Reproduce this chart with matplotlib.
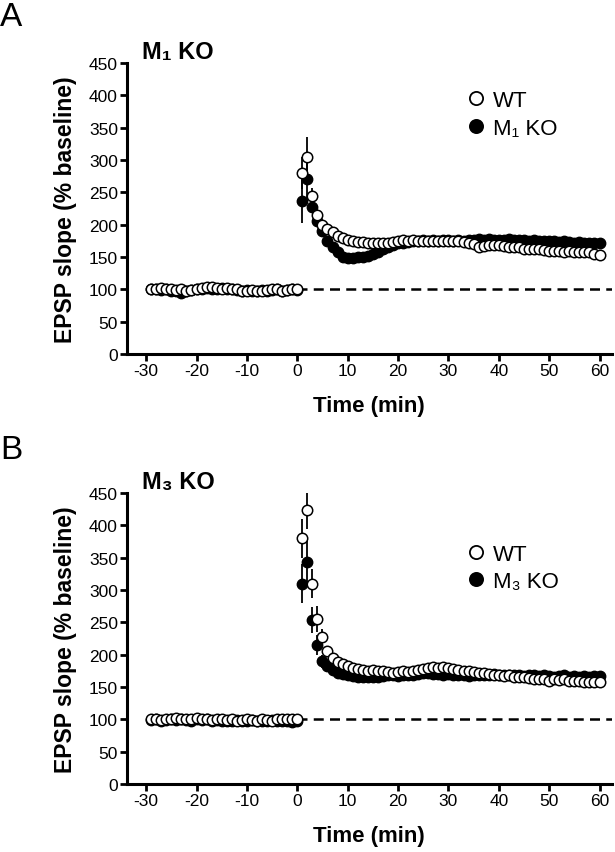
#!/usr/bin/env python
import numpy as np
import matplotlib as mpl
mpl.use('Agg')
import matplotlib.pyplot as plt
from matplotlib.lines import Line2D

plt.rcParams['font.family'] = ['Liberation Sans', 'DejaVu Sans']
plt.rcParams['axes.unicode_minus'] = False

# time axis (min)
t_base = np.arange(-29, 1)
t_post = np.arange(1, 61)

# ---- panel A: M1 KO ----
a_wt_base = [101, 100, 102, 101, 100, 99, 101, 98, 99, 101, 102, 103, 104, 102, 101,
             102, 101, 100, 97, 98, 99, 97, 98, 99, 100, 101, 97, 99, 100, 100]
a_ko_base = [100, 101, 99, 100, 98, 97, 95, 97, 99, 100, 101, 102, 101, 100, 102,
             101, 100, 99, 98, 99, 98, 97, 99, 98, 99, 100, 98, 99, 100, 99]
a_wt_post = [280, 305, 245, 215, 200, 193, 188, 183, 180, 177, 175, 173, 173, 172, 172,
             172, 171, 172, 173, 175, 176, 175, 176, 175, 174, 175, 174, 175, 174, 175,
             174, 175, 173, 172, 170, 166, 167, 168, 169, 168, 167, 166, 165, 165, 163,
             162, 163, 162, 161, 160, 160, 160, 158, 159, 158, 157, 158, 157, 155, 153]
a_ko_post = [236, 270, 228, 205, 190, 175, 165, 157, 150, 148, 148, 150, 150, 152, 155,
             158, 162, 165, 168, 171, 172, 173, 174, 175, 176, 175, 176, 175, 176, 176,
             175, 176, 175, 176, 177, 178, 177, 178, 177, 176, 177, 178, 177, 176, 176,
             175, 176, 175, 174, 175, 174, 173, 174, 173, 172, 173, 172, 171, 172, 171]
a_wt_err = [25, 31, 12, 8, 6, 5, 4]
a_ko_err = [33, 30, 10, 7, 5, 4, 4]

# ---- panel B: M3 KO ----
b_wt_base = [100, 101, 99, 100, 101, 102, 100, 101, 100, 102, 101, 100, 99, 101, 100,
             99, 100, 98, 99, 100, 99, 98, 100, 99, 98, 100, 101, 100, 101, 101]
b_ko_base = [99, 100, 98, 99, 100, 99, 100, 99, 98, 100, 99, 100, 98, 99, 98,
             97, 98, 99, 97, 98, 99, 98, 97, 98, 99, 97, 98, 97, 96, 97]
b_wt_post = [380, 423, 310, 255, 228, 205, 195, 188, 185, 183, 180, 178, 177, 175, 176,
             174, 174, 173, 172, 173, 174, 173, 175, 177, 178, 180, 181, 180, 181, 180,
             178, 177, 175, 174, 173, 172, 171, 170, 169, 168, 167, 168, 166, 165, 166,
             164, 163, 162, 163, 160, 162, 161, 163, 160, 159, 160, 158, 157, 158, 158]
b_ko_post = [310, 343, 253, 215, 190, 182, 176, 172, 170, 168, 167, 166, 166, 166, 165,
             166, 167, 168, 168, 167, 168, 168, 169, 170, 171, 171, 170, 170, 169, 170,
             169, 168, 168, 167, 168, 169, 168, 169, 170, 169, 168, 169, 168, 168, 167,
             168, 168, 167, 168, 167, 166, 167, 168, 166, 167, 166, 167, 166, 167, 167]
b_wt_err = [30, 28, 22, 20, 12, 8, 6]
b_ko_err = [30, 35, 20, 15, 10, 7, 5]

xticks = [-30, -20, -10, 0, 10, 20, 30, 40, 50, 60]
yticks = [0, 50, 100, 150, 200, 250, 300, 350, 400, 450]


def pad_err(err, n, fill):
    return list(err) + [fill] * (n - len(err))


def draw_panel(ax, wt_base, ko_base, wt_post, ko_post, wt_err, ko_err, title, ko_label,
               leg_y):
    t = np.concatenate([t_base, t_post])
    wt = np.array(wt_base + wt_post, dtype=float)
    ko = np.array(ko_base + ko_post, dtype=float)
    wt_e = np.array([3] * len(t_base) + pad_err(wt_err, len(t_post), 4), dtype=float)
    ko_e = np.array([3] * len(t_base) + pad_err(ko_err, len(t_post), 4), dtype=float)

    ax.plot([0, 62.5], [100, 100], color='black', lw=1.8, ls=(0, (4, 2.5)), zorder=1)

    ax.errorbar(t, ko, yerr=ko_e, fmt='o', ms=7.5, mfc='black', mec='black', mew=1,
                ecolor='black', elinewidth=1.3, capsize=0, zorder=2)
    ax.errorbar(t, wt, yerr=wt_e, fmt='o', ms=7.5, mfc='white', mec='black', mew=1.1,
                ecolor='black', elinewidth=1.3, capsize=0, zorder=3)

    ax.set_xlim(-33.8, 62.4)
    ax.set_ylim(0, 450)
    ax.set_xticks(xticks)
    ax.set_yticks(yticks)
    for s in ('top', 'right'):
        ax.spines[s].set_visible(False)
    for s in ('left', 'bottom'):
        ax.spines[s].set_linewidth(2.2)
    ax.tick_params(direction='out', length=5, width=2, labelsize=12.5, pad=1.5)
    ax.set_xlabel('Time (min)', fontsize=16, fontweight='bold', labelpad=12)
    ax.set_ylabel('EPSP slope (% baseline)', fontsize=16.5, fontweight='bold')
    ax.yaxis.set_label_coords(-0.103, 0.5)
    ax.text(0.03, 1.04, title, transform=ax.transAxes, fontsize=17,
            fontweight='bold', ha='left', va='center')

    handles = [
        Line2D([], [], ls='none', marker='o', ms=9.5, mfc='white', mec='black', mew=1.3),
        Line2D([], [], ls='none', marker='o', ms=9.5, mfc='black', mec='black', mew=1.3),
    ]
    ax.legend(handles, ['WT', ko_label], loc='upper left', bbox_to_anchor=(0.655, leg_y),
              frameon=False, fontsize=16, handletextpad=0.3, labelspacing=0.3,
              handlelength=1.0, borderpad=0.4)


fig = plt.figure(figsize=(6.15, 8.53), dpi=100)
ax_a = fig.add_axes([0.2065, 0.5838, 0.788, 0.3412])
ax_b = fig.add_axes([0.2065, 0.0797, 0.788, 0.3412])

draw_panel(ax_a, a_wt_base, a_ko_base, a_wt_post, a_ko_post, a_wt_err, a_ko_err,
           'M\u2081 KO', 'M\u2081 KO', 0.975)
draw_panel(ax_b, b_wt_base, b_ko_base, b_wt_post, b_ko_post, b_wt_err, b_ko_err,
           'M\u2083 KO', 'M\u2083 KO', 0.895)

fig.text(0.0, 0.998, 'A', fontsize=24, ha='left', va='top')
fig.text(0.0, 0.49, 'B', fontsize=24, ha='left', va='top')

fig.savefig('out.png', dpi=100)
